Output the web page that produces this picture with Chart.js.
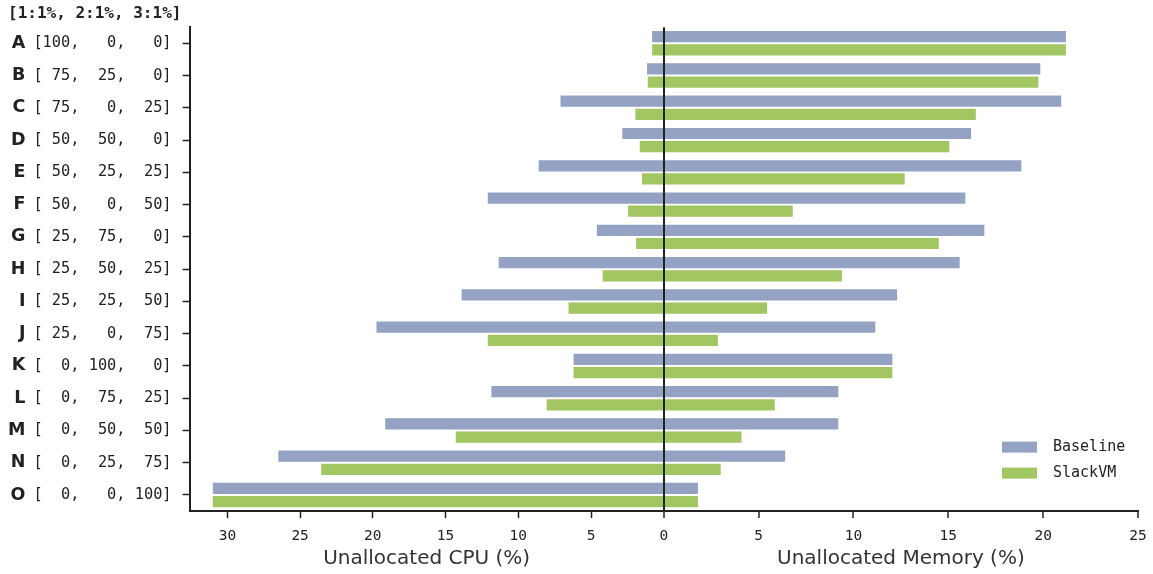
<!DOCTYPE html>
<html>
<head>
<meta charset="utf-8">
<script src="https://cdn.jsdelivr.net/npm/chart.js@4/dist/chart.umd.min.js"></script>
<style>
  body { margin: 0; background: #fff; }
  #wrap { width: 1153px; height: 574px; }
</style>
</head>
<body>
<div id="wrap"><canvas id="myChart"></canvas></div>
<script>
// Workload mixes
const letters = ['A', 'B', 'C', 'D', 'E', 'F', 'G', 'H', 'I', 'J', 'K', 'L', 'M', 'N', 'O'];
const mixes = [
    '[100,   0,   0]', '[ 75,  25,   0]', '[ 75,   0,  25]', '[ 50,  50,   0]',
    '[ 50,  25,  25]', '[ 50,   0,  50]', '[ 25,  75,   0]', '[ 25,  50,  25]',
    '[ 25,  25,  50]', '[ 25,   0,  75]', '[  0, 100,   0]', '[  0,  75,  25]',
    '[  0,  50,  50]', '[  0,  25,  75]', '[  0,   0, 100]'
];

// Unallocated CPU (%)
const cpuBaseline = [0.8, 1.15, 7.1, 2.85, 8.6, 12.1, 4.6, 11.35, 13.9, 19.75, 6.2, 11.85, 19.15, 26.5, 31.0];
const cpuSlackVM = [0.8, 1.1, 1.95, 1.65, 1.5, 2.45, 1.9, 4.2, 6.55, 12.1, 6.2, 8.05, 14.3, 23.55, 31.0];

// Unallocated Memory (%)
const memBaseline = [21.2, 19.85, 20.95, 16.2, 18.85, 15.9, 16.9, 15.6, 12.3, 11.15, 12.05, 9.2, 9.2, 6.4, 1.8];
const memSlackVM = [21.2, 19.75, 16.45, 15.05, 12.7, 6.8, 14.5, 9.4, 5.45, 2.85, 12.05, 5.85, 4.1, 3.0, 1.8];

const title = '[1:1%, 2:1%, 3:1%]';
const baseColor = '#94a3c3';
const slackColor = '#a2c662';
const ink = '#222';
const mono = "'DejaVu Sans Mono', monospace";
const sans = "'DejaVu Sans', sans-serif";

// legend sits in the lower right corner of the plot
const cornerLegend = {
    id: 'cornerLegend',
    afterDraw(chart) {
        const { ctx, chartArea } = chart;
        const items = [['Baseline', baseColor], ['SlackVM', slackColor]];
        ctx.save();
        ctx.font = '15px ' + mono;
        ctx.textBaseline = 'middle';
        items.forEach(([label, color], i) => {
            const y = chartArea.bottom - 64 + i * 26;
            ctx.fillStyle = color;
            ctx.fillRect(chartArea.right - 136, y - 5.5, 35, 11);
            ctx.fillStyle = ink;
            ctx.fillText(label, chartArea.right - 85, y);
        });
        ctx.restore();
    }
};

// chart.js reserves tick padding on both sides of an axis; keep only one
const trimY = scale => { scale.width -= scale.options.ticks.padding; };
const trimX = scale => {
    scale.height -= scale.options.ticks.padding;
    scale.paddingLeft = 0;
    scale.paddingRight = 0;
};

function bars(label, data, color, axis, stack) {
    return {
        label: label,
        data: data,
        backgroundColor: color,
        borderWidth: 0,
        xAxisID: axis,
        yAxisID: 'y',
        stack: stack,
        barPercentage: 0.85,
        categoryPercentage: 0.82
    };
}

const xTicks = { font: { family: mono, size: 14.5 }, color: ink, padding: 9, stepSize: 5 };
const xTitle = text => ({
    display: true,
    text: text,
    color: '#333',
    font: { family: sans, size: 20 },
    padding: { top: 2, bottom: 0 }
});

new Chart(document.getElementById('myChart'), {
    type: 'bar',
    data: {
        labels: mixes,
        datasets: [
            bars('Baseline', cpuBaseline, baseColor, 'xc', 'b'),
            bars('SlackVM', cpuSlackVM, slackColor, 'xc', 's'),
            bars('Baseline', memBaseline, baseColor, 'xm', 'b'),
            bars('SlackVM', memSlackVM, slackColor, 'xm', 's')
        ]
    },
    options: {
        indexAxis: 'y',
        responsive: true,
        maintainAspectRatio: false,
        animation: false,
        layout: { padding: { left: 8, right: 15, top: 0, bottom: 3.5 } },
        plugins: {
            legend: { display: false },
            tooltip: { enabled: false },
            title: {
                display: true,
                text: title,
                align: 'start',
                color: ink,
                font: { family: mono, size: 16, weight: 'bold' },
                padding: { top: 4, bottom: 4 }
            }
        },
        scales: {
            yl: {
                type: 'category',
                position: 'left',
                labels: letters,
                offset: true,
                weight: 2,
                afterFit: trimY,
                grid: { display: false, drawTicks: false },
                border: { display: false },
                ticks: { font: { family: sans, size: 17.5, weight: 'bold' }, color: ink, padding: 8 }
            },
            y: {
                type: 'category',
                position: 'left',
                offset: true,
                weight: 1,
                afterFit: trimY,
                grid: { offset: false, drawOnChartArea: false, tickLength: 7, tickColor: ink, tickWidth: 1.5 },
                border: { color: ink, width: 2 },
                ticks: { font: { family: mono, size: 15.3 }, color: ink, padding: 11 }
            },
            xc: {
                type: 'linear',
                position: 'bottom',
                stack: 'x',
                stackWeight: 1,
                reverse: true,
                min: 0,
                max: 32.6,
                afterFit: trimX,
                grid: { drawOnChartArea: false, tickLength: 7, tickColor: ink, tickWidth: 1.5 },
                border: { color: ink, width: 2 },
                ticks: Object.assign({}, xTicks, {
                    includeBounds: false,
                    callback: v => (v === 0 ? null : v)
                }),
                title: xTitle('Unallocated CPU (%)')
            },
            xm: {
                type: 'linear',
                position: 'bottom',
                stack: 'x',
                stackWeight: 1,
                min: 0,
                max: 25,
                afterFit: trimX,
                grid: {
                    z: 1,
                    color: c => (c.tick && c.tick.value === 0 ? ink : 'transparent'),
                    lineWidth: 2,
                    tickLength: 7,
                    tickColor: ink,
                    tickWidth: 1.5
                },
                border: { color: ink, width: 2, z: 2 },
                ticks: xTicks,
                title: xTitle('Unallocated Memory (%)')
            }
        }
    },
    plugins: [cornerLegend]
});
</script>
</body>
</html>
